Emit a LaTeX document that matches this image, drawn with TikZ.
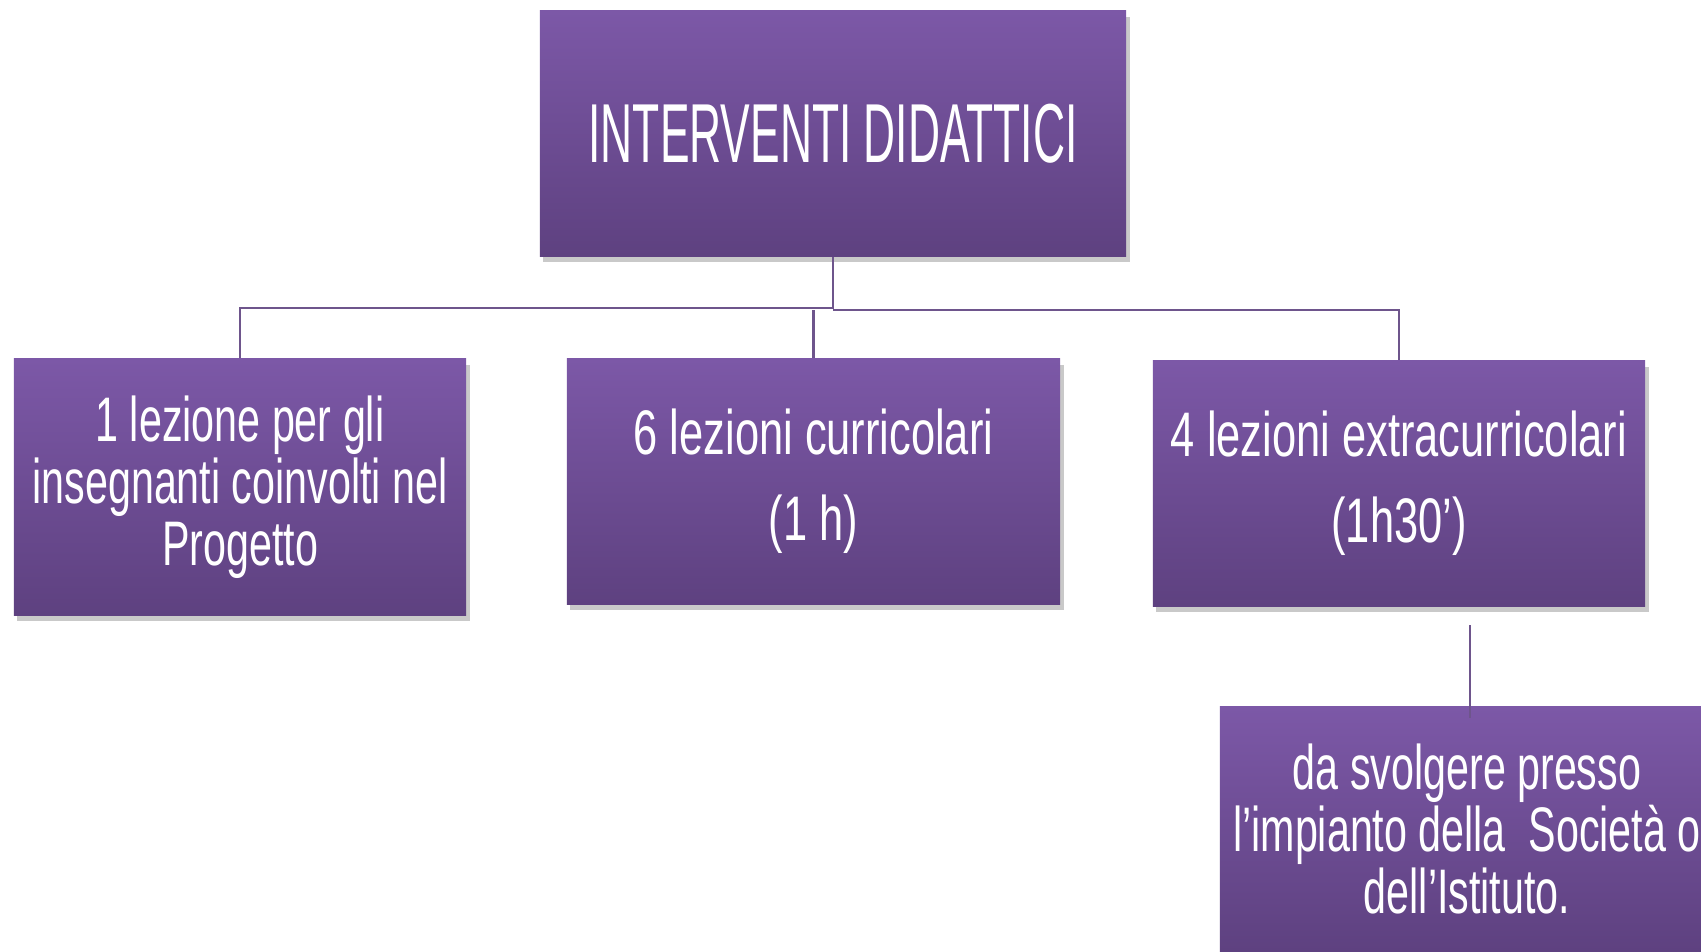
\documentclass[tikz,border=0pt]{standalone}
\usepackage{fontspec}
\newfontfamily\agencycaps[FakeStretch=0.53]{Liberation Sans}
\newfontfamily\agency[FakeStretch=0.69]{Liberation Sans}
\newfontfamily\agencyn[FakeStretch=0.655]{Liberation Sans}
\usetikzlibrary{shadows}
\definecolor{ptop}{RGB}{124,88,167}
\definecolor{pbot}{RGB}{94,65,128}
\definecolor{pline}{RGB}{110,85,140}
\tikzset{
  box/.style={rectangle, top color=ptop, bottom color=pbot, draw=none,
    text=white, align=center, inner sep=0pt,
    drop shadow={shadow xshift=1.0pt, shadow yshift=-1.8pt, opacity=0.3, fill=black!70}},
  conn/.style={draw=pline, line width=0.7pt}
}
\begin{document}
\begin{tikzpicture}[x=0.01cm, y=-0.01cm]
\useasboundingbox (0,0) rectangle (1701,951);
\clip (0,0) rectangle (1701,951);
\node[box, minimum width=5.86cm, minimum height=2.45cm,
  font=\agencycaps\fontsize{23.8}{26}\selectfont] (top) at (833,133.5) {INTERVENTI DIDATTICI};
\node[box, minimum width=4.52cm, minimum height=2.56cm,
  font=\agencyn\fontsize{17.9}{17.6}\selectfont] (left) at (240,487)
  {1 lezione per gli\\insegnanti coinvolti nel\\Progetto};
\node[box, minimum width=4.93cm, minimum height=2.45cm,
  font=\agency\fontsize{17.9}{24.5}\selectfont] (mid) at (813.5,481.5)
  {6 lezioni curricolari\\(1 h)};
\node[box, minimum width=4.92cm, minimum height=2.45cm,
  font=\agency\fontsize{17.9}{24.5}\selectfont] (right) at (1399,483.5)
  {4 lezioni extracurricolari\\(1h30’)};
\node[box, minimum width=4.94cm, minimum height=2.44cm,
  font=\agencyn\fontsize{17.9}{17.6}\selectfont] (bot) at (1467,829)
  {da svolgere presso\\l’impianto della~ Società o\\dell’Istituto.};
\coordinate (bt) at (1470,625);
\draw[conn] (top.south) -- (top.south |- 0,308) -| (left.north);
\draw[conn] (top.south |- 0,310) -| (right.north);
\draw[conn] (mid.north) -- (mid.north |- 0,310);
\draw[conn] (bt) -- (bt |- 0,718);
\end{tikzpicture}
\end{document}
